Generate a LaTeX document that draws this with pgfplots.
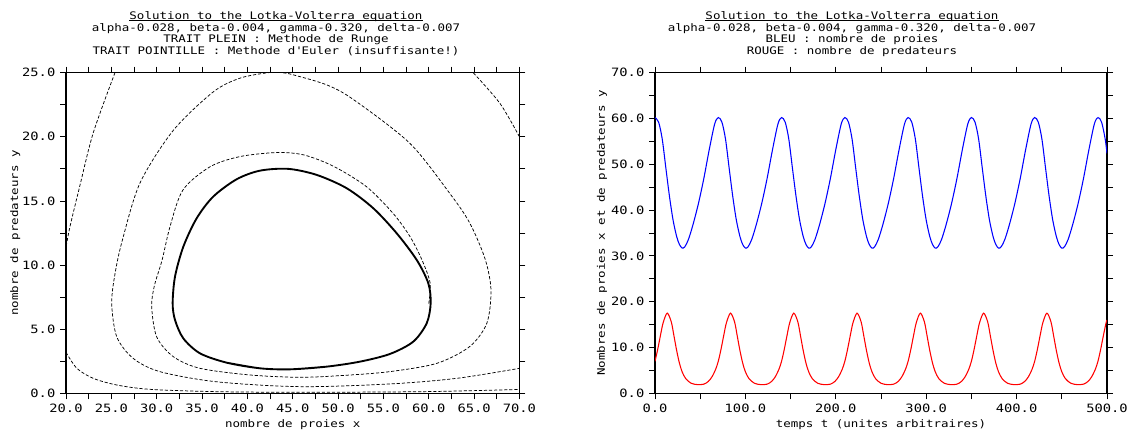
\documentclass[border=0pt]{standalone}
\usepackage{fontspec}
\setmainfont{DejaVu Sans Mono}[FakeStretch=1.2]
\usepackage{pgfplots}
\usepackage{pgfplotstable}
\pgfplotsset{compat=1.18}

\newcommand\tfont{\fontsize{7.8}{9}\selectfont}
\newcommand\kfont{\fontsize{8.6}{10}\selectfont}

% --- phase plane: Runge (closed orbit)
\pgfplotstableread{
x y
37.72 2.39
41.39 1.95
44.70 1.87
48.74 2.08
52.41 2.47
55.72 3.07
58.29 4.03
59.77 5.46
60.21 7.02
59.95 8.58
58.67 10.40
56.46 12.48
53.88 14.43
50.95 15.99
47.64 17.03
44.50 17.50
41.39 17.36
38.82 16.69
36.24 15.34
34.41 13.65
32.94 11.44
32.02 9.10
31.76 7.02
32.02 5.72
32.93 4.29
34.77 3.12
37.72 2.39
41.39 1.95
44.70 1.87
48.74 2.08
}\runge

% --- Euler spiral, visible pieces
\pgfplotstableread{
x y
60.00 7.00
60.15 8.60
59.25 10.40
57.95 12.20
56.10 14.00
53.15 16.10
49.50 17.70
46.20 18.59
43.20 18.77
39.20 18.46
35.90 17.67
32.90 15.86
31.47 13.00
30.60 10.40
29.75 8.40
29.45 6.76
30.00 4.40
31.83 2.86
34.77 1.95
40.30 1.43
45.80 1.25
50.70 1.40
55.70 1.69
60.90 2.34
64.50 3.64
66.40 5.46
66.86 8.06
66.20 10.50
64.50 13.30
62.30 15.60
57.90 19.50
51.70 22.90
48.74 24.05
45.06 24.83
43.80 25.00
42.30 25.00
39.18 24.57
36.24 23.50
31.83 20.50
28.16 16.40
26.20 11.90
25.40 9.30
25.04 7.00
25.60 4.40
27.40 2.73
30.36 1.69
36.60 0.90
45.80 0.52
55.70 0.73
63.10 1.17
70.00 1.95
}\eulerA

\pgfplotstableread{
x y
70.00 20.00
67.85 22.60
64.90 25.00
}\eulerB

\pgfplotstableread{
x y
25.40 25.00
23.00 20.30
21.50 16.10
20.44 13.00
20.00 11.40
}\eulerC

\pgfplotstableread{
x y
20.00 3.20
21.20 1.95
23.00 1.17
25.60 0.65
29.30 0.31
36.60 0.13
45.80 0.08
59.40 0.13
70.00 0.30
}\eulerD

% --- time series, prey (blue)
\pgfplotstableread{
t x
0 60.2
4 59.2
8 55.5
12 49.2
16 43.0
20 37.8
24 34.2
27 32.5
30 31.7
33 32.0
37 33.6
42 36.8
48 41.4
54 46.9
60 53.2
66 58.8
70 60.2
74 59.2
78 55.5
82 49.2
86 43.0
90 37.8
94 34.2
97 32.5
100 31.7
103 32.0
107 33.6
112 36.8
118 41.4
124 46.9
130 53.2
136 58.8
140 60.2
144 59.2
148 55.5
152 49.2
156 43.0
160 37.8
164 34.2
167 32.5
170 31.7
173 32.0
177 33.6
182 36.8
188 41.4
194 46.9
200 53.2
206 58.8
210 60.2
214 59.2
218 55.5
222 49.2
226 43.0
230 37.8
234 34.2
237 32.5
240 31.7
243 32.0
247 33.6
252 36.8
258 41.4
264 46.9
270 53.2
276 58.8
280 60.2
284 59.2
288 55.5
292 49.2
296 43.0
300 37.8
304 34.2
307 32.5
310 31.7
313 32.0
317 33.6
322 36.8
328 41.4
334 46.9
340 53.2
346 58.8
350 60.2
354 59.2
358 55.5
362 49.2
366 43.0
370 37.8
374 34.2
377 32.5
380 31.7
383 32.0
387 33.6
392 36.8
398 41.4
404 46.9
410 53.2
416 58.8
420 60.2
424 59.2
428 55.5
432 49.2
436 43.0
440 37.8
444 34.2
447 32.5
450 31.7
453 32.0
457 33.6
462 36.8
468 41.4
474 46.9
480 53.2
486 58.8
490 60.2
494 59.2
498 55.5
500 52.4
}\proies

% --- time series, predators (red)
\pgfplotstableread{
t y
0 7.0
3 9.6
6 12.6
9 15.4
13.5 17.5
18 15.6
21 12.5
24 9.3
27 6.6
30 4.7
34 3.2
40 2.2
47 1.9
54 2.0
59 2.6
63 3.6
67 5.2
70 7.0
73 9.6
76 12.6
79 15.4
83.5 17.5
88 15.6
91 12.5
94 9.3
97 6.6
100 4.7
104 3.2
110 2.2
117 1.9
124 2.0
129 2.6
133 3.6
137 5.2
140 7.0
143 9.6
146 12.6
149 15.4
153.5 17.5
158 15.6
161 12.5
164 9.3
167 6.6
170 4.7
174 3.2
180 2.2
187 1.9
194 2.0
199 2.6
203 3.6
207 5.2
210 7.0
213 9.6
216 12.6
219 15.4
223.5 17.5
228 15.6
231 12.5
234 9.3
237 6.6
240 4.7
244 3.2
250 2.2
257 1.9
264 2.0
269 2.6
273 3.6
277 5.2
280 7.0
283 9.6
286 12.6
289 15.4
293.5 17.5
298 15.6
301 12.5
304 9.3
307 6.6
310 4.7
314 3.2
320 2.2
327 1.9
334 2.0
339 2.6
343 3.6
347 5.2
350 7.0
353 9.6
356 12.6
359 15.4
363.5 17.5
368 15.6
371 12.5
374 9.3
377 6.6
380 4.7
384 3.2
390 2.2
397 1.9
404 2.0
409 2.6
413 3.6
417 5.2
420 7.0
423 9.6
426 12.6
429 15.4
433.5 17.5
438 15.6
441 12.5
444 9.3
447 6.6
450 4.7
454 3.2
460 2.2
467 1.9
474 2.0
479 2.6
483 3.6
487 5.2
490 7.0
493 9.6
496 12.6
499 15.4
500 16.0
}\predateurs

\pgfplotsset{
  lv/.style={
    scale only axis,
    height=240.5pt,
    anchor=south west,
    axis line style={line width=0.9pt},
    tick align=outside,
    tick pos=both,
    major tick length=4.5pt,
    minor tick length=4.5pt,
    tick style={black, line width=0.6pt},
    minor x tick num=1,
    minor y tick num=1,
    tick label style={font=\kfont},
    label style={font=\tfont},
    xlabel style={at={(rel axis cs:0.5,0)}, anchor=base, yshift=-25.3pt},
  },
  euler/.style={black, line width=0.55pt, dash pattern=on 2.4pt off 1.4pt, smooth},
}

\begin{document}
\begin{tikzpicture}
\path[use as bounding box] (0,0) rectangle (849pt,325.5pt);

% ---------------- left: phase plane
\begin{axis}[lv,
    at={(49.5pt,30.5pt)},
    width=340.1pt,
    xmin=20, xmax=70, ymin=0, ymax=25,
    xtick={20,25,30,35,40,45,50,55,60,65,70},
    xticklabels={20.0,25.0,30.0,35.0,40.0,45.0,50.0,55.0,60.0,65.0,70.0},
    ytick={0,5,10,15,20,25},
    yticklabels={0.0,5.0,10.0,15.0,20.0,25.0},
    xlabel={nombre de proies x},
    ylabel={nombre de predateurs y},
    ylabel style={at={(rel axis cs:-0.1117,0.5)}, anchor=center},
]
\addplot[euler] table[x=x, y=y] {\eulerA};
\addplot[euler] table[x=x, y=y] {\eulerB};
\addplot[euler] table[x=x, y=y] {\eulerC};
\addplot[euler] table[x=x, y=y] {\eulerD};
\addplot[black, line width=1.4pt, smooth] table[x=x, y=y] {\runge};
\end{axis}

% ---------------- right: time series
\begin{axis}[lv,
    at={(491.25pt,30.5pt)},
    width=339pt,
    xmin=0, xmax=500, ymin=0, ymax=70,
    xtick={0,100,200,300,400,500},
    xticklabels={0.0,100.0,200.0,300.0,400.0,500.0},
    ytick={0,10,20,30,40,50,60,70},
    yticklabels={0.0,10.0,20.0,30.0,40.0,50.0,60.0,70.0},
    xlabel={temps t (unites arbitraires)},
    ylabel={Nombres de proies x et de predateurs y},
    ylabel style={at={(rel axis cs:-0.1173,0.5)}, anchor=center},
]
\addplot[blue, line width=0.8pt, smooth] table[x=t, y=x] {\proies};
\addplot[red, line width=0.8pt, smooth] table[x=t, y=y] {\predateurs};
\end{axis}

% ---------------- titles
\begin{scope}[every node/.style={inner sep=0pt, anchor=base, font=\tfont}]
\node (tl) at (207pt,311.0pt) {Solution to the Lotka-Volterra equation};
\node at (207pt,301.9pt) {alpha-0.028, beta-0.004, gamma-0.320, delta-0.007};
\node at (207pt,293.6pt) {TRAIT PLEIN : Methode de Runge};
\node at (207pt,284.6pt) {TRAIT POINTILLE : Methode d\textquotesingle Euler (insuffisante!)};
\node (tr) at (639pt,311.0pt) {Solution to the Lotka-Volterra equation};
\node at (639pt,301.9pt) {alpha-0.028, beta-0.004, gamma-0.320, delta-0.007};
\node at (639pt,293.6pt) {BLEU : nombre de proies};
\node at (639pt,284.6pt) {ROUGE : nombre de predateurs};
\end{scope}
\draw[line width=0.5pt] ([yshift=-1.1pt]tl.base west) -- ([yshift=-1.1pt]tl.base east);
\draw[line width=0.5pt] ([yshift=-1.1pt]tr.base west) -- ([yshift=-1.1pt]tr.base east);
\end{tikzpicture}
\end{document}
